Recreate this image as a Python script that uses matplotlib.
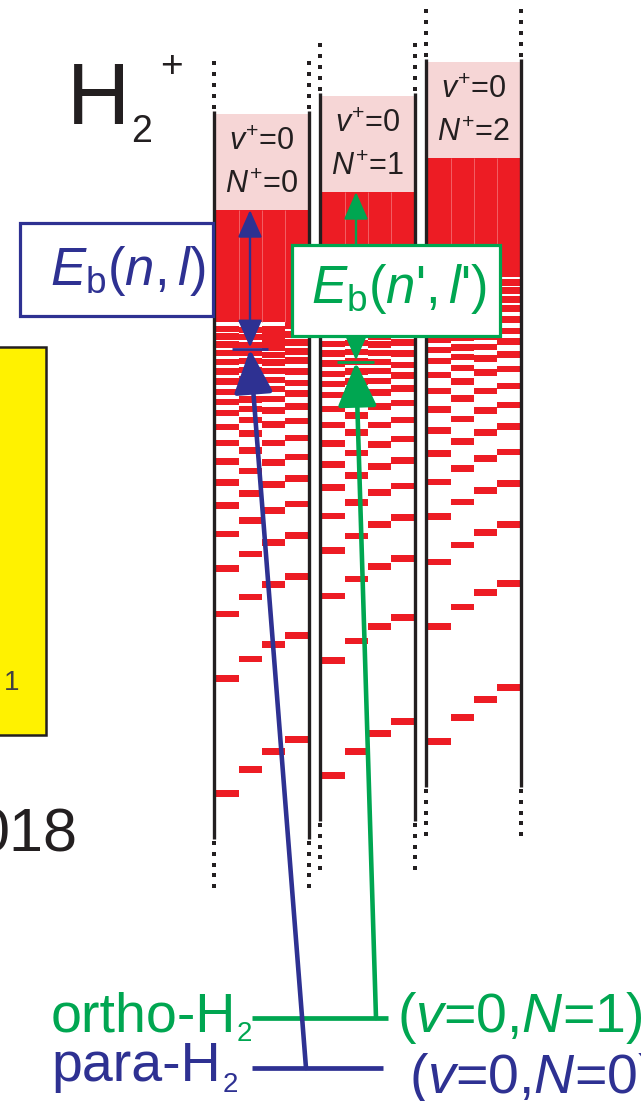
import matplotlib
matplotlib.use("Agg")
import matplotlib.pyplot as plt
from matplotlib.patches import Rectangle

plt.rcParams['font.family'] = ['Liberation Sans', 'DejaVu Sans']
plt.rcParams['mathtext.fontset'] = 'custom'
plt.rcParams['mathtext.rm'] = 'Liberation Sans'
plt.rcParams['mathtext.it'] = 'Liberation Sans:italic'
plt.rcParams['mathtext.bf'] = 'Liberation Sans:bold'

# ---------------- data (diagram energy axis, drawn downward) ----------------
ion_labels_v = [r'$v^{+}$=0', r'$v^{+}$=0', r'$v^{+}$=0']
ion_labels_N = [r'$N^{+}$=0', r'$N^{+}$=1', r'$N^{+}$=2']
ion_limits = [210, 192, 158]          # H2+ (v+=0, N+) ionisation limits
# Rydberg-level binding energies below each limit, for the 4 l-sub-series
binding_l0 = [119, 126.5, 134.5, 143, 152, 161.5, 171.5, 182, 192, 203, 217,
              233, 251.3, 272.3, 295.7, 324, 358.7, 404, 468.3, 583.7]
binding_l1 = [120, 127, 135, 143, 151, 160, 169.5, 179.5, 189.5, 199, 210,
              223.7, 240.5, 261, 283.7, 310.7, 344, 387, 449, 559.5]
binding_l2 = [119, 125.5, 132, 138, 145, 152.5, 161, 170, 179, 189, 200.5,
              214.7, 233, 252.3, 274.3, 300.3, 332.3, 374.3, 434.3, 541.3]
binding_l3 = [115.3, 124.7, 132.7, 141.3, 150.3, 161.3, 173, 183.7, 196.3, 211,
              228, 247, 268.3, 294, 325.7, 366.7, 425.3, 529.5]
quasi_continuum_depth = 112           # unresolved levels just below each limit
window_above = 99.5                   # visible range above / below the limit
window_below = 629
eb_nl = 139.3                         # marked level, para series (N+=0)
eb_nl_prime = 170.3                   # marked level, ortho series (N+=1)
ortho_level = 1018                    # H2 (v=0,N=1)
para_level = 1068                     # H2 (v=0,N=0)

# ---------------- style / layout ----------------
RED = '#ed1c24'
PINK = '#f6d6d6'
BLUE = '#2e3192'
GREEN = '#00a651'
BLACK = '#231f20'
col_left = [214, 320, 426]
col_w = 95
sub_w = (col_w - 3) / 4
bar_h = 6.6

fig = plt.figure(figsize=(6.41, 11.01), dpi=100)
ax = fig.add_axes([0, 0, 1, 1])
ax.set_xlim(0, 641)
ax.set_ylim(1101, 0)
ax.axis('off')

sub_series = [binding_l0, binding_l1, binding_l2, binding_l3]
for c, lim in enumerate(ion_limits):
    L = col_left[c]
    top = lim - window_above
    bot = lim + window_below
    inner = L + 1.5
    # pink continuum above the limit
    ax.bar(inner, lim - (top + 3.5), width=col_w - 3, bottom=top + 3.5,
           align='edge', color=PINK, lw=0, zorder=1)
    # dense quasi-continuum
    ax.bar(inner, quasi_continuum_depth, width=col_w - 3, bottom=lim,
           align='edge', color=RED, lw=0, zorder=1)
    for s, binds in enumerate(sub_series):
        x0 = inner + s * sub_w
        ys = [lim + b - bar_h / 2 for b in binds]
        ax.bar([x0] * len(ys), bar_h, width=sub_w, bottom=ys, align='edge',
               color=RED, lw=0, zorder=1)
    for s in range(1, 4):
        ax.vlines(inner + s * sub_w, lim, lim + quasi_continuum_depth,
                  color='#f36a70', lw=0.6, zorder=1.5)
    # boundaries
    ax.vlines([L, L + col_w], top, bot, color=BLACK, lw=2.4, zorder=2)
    for xx in (L, L + col_w):
        ax.scatter([xx] * 5, [top - 4 - 10.8 * k for k in range(5)], marker='s',
                   s=6, color=BLACK, lw=0, zorder=2)
        ax.scatter([xx] * 5, [bot + 4 + 10.8 * k for k in range(5)], marker='s',
                   s=6, color=BLACK, lw=0, zorder=2)
    cx = L + col_w / 2
    ax.text(cx, lim - 60, ion_labels_v[c], ha='center', va='baseline',
            fontsize=22, color=BLACK, zorder=3)
    ax.text(cx, lim - 17, ion_labels_N[c], ha='center', va='baseline',
            fontsize=22, color=BLACK, zorder=3)

# H2+ title
ax.text(67, 124, 'H', fontsize=63, ha='left', va='baseline', color=BLACK)
ax.text(131, 142, '2', fontsize=27, ha='left', va='baseline', color=BLACK)
ax.text(171, 67, '+', fontsize=28, ha='center', va='center', color=BLACK)

# left (cropped) neighbouring panel
ax.add_patch(Rectangle((-10, 347), 56, 388, facecolor='#fff200',
                       edgecolor=BLACK, lw=1.8, zorder=1))
ax.text(4, 690, '1', fontsize=20, ha='left', va='baseline', color='#414042')
ax.text(78, 852, '018', fontsize=44, ha='right', va='baseline', color=BLACK)

# arrows: para (blue)
xb = col_left[0] + 1.5 + 1.5 * sub_w
yb = ion_limits[0] + eb_nl
ax.annotate('', xy=(xb, ion_limits[0]), xytext=(xb, yb - 2),
            arrowprops=dict(arrowstyle='<|-|>,head_length=17,head_width=7.5',
                            mutation_scale=1, lw=1.7, color=BLUE,
                            shrinkA=0, shrinkB=0), zorder=4)
ax.hlines(yb, xb - 18, xb + 18, color=BLUE, lw=2.0, zorder=4)
ax.annotate('', xy=(xb, yb), xytext=(306, para_level),
            arrowprops=dict(arrowstyle='-|>,head_length=27,head_width=12',
                            mutation_scale=1, lw=3.3, color=BLUE,
                            shrinkA=0, shrinkB=0), zorder=6)
# arrows: ortho (green)
xg = col_left[1] + 1.5 + 1.5 * sub_w
yg = ion_limits[1] + eb_nl_prime
ax.annotate('', xy=(xg, ion_limits[1]), xytext=(xg, yg - 2),
            arrowprops=dict(arrowstyle='<|-|>,head_length=17,head_width=7.5',
                            mutation_scale=1, lw=1.7, color=GREEN,
                            shrinkA=0, shrinkB=0), zorder=4)
ax.hlines(yg, xg - 19, xg + 18, color=GREEN, lw=2.0, zorder=4)
ax.annotate('', xy=(xg, yg), xytext=(376, ortho_level),
            arrowprops=dict(arrowstyle='-|>,head_length=27,head_width=12',
                            mutation_scale=1, lw=3.3, color=GREEN,
                            shrinkA=0, shrinkB=0), zorder=5)

# boxes
ax.add_patch(Rectangle((20, 222.7), 193, 93.3, facecolor='white',
                       edgecolor=BLUE, lw=2.3, zorder=5))
ax.text(128, 285, r'$E_{\mathrm{b}}(n,l)$', fontsize=38, color=BLUE,
        ha='center', va='baseline', zorder=6)
ax.add_patch(Rectangle((291.7, 245), 208.3, 91, facecolor='white',
                       edgecolor=GREEN, lw=2.3, zorder=5))
ax.text(399, 303, r"$E_{\mathrm{b}}(n$'$,l$'$)$", fontsize=38, color=GREEN,
        ha='center', va='baseline', zorder=6)

# ground states
ax.hlines(ortho_level, 252, 388, color=GREEN, lw=3.4, zorder=5)
ax.hlines(para_level, 252, 383, color=BLUE, lw=3.4, zorder=5)
ax.text(236, 1031, 'ortho-H', fontsize=40, color=GREEN, ha='right', va='baseline')
ax.text(237, 1041, '2', fontsize=20, color=GREEN, ha='left', va='baseline')
ax.text(221, 1081, 'para-H', fontsize=40, color=BLUE, ha='right', va='baseline')
ax.text(223, 1092, '2', fontsize=20, color=BLUE, ha='left', va='baseline')
ax.text(397, 1032, r'($v$=0,$N$=1)', fontsize=40, color=GREEN, ha='left', va='baseline')
ax.text(409, 1093, r'($v$=0,$N$=0)', fontsize=40, color=BLUE, ha='left', va='baseline')

fig.savefig('out.png', dpi=100)
